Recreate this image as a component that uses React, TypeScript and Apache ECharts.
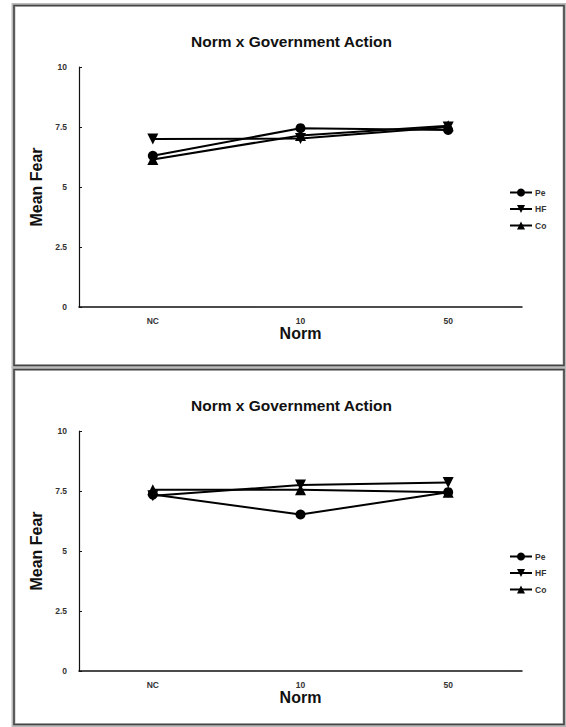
import React, { useEffect, useRef } from "react";
import * as echarts from "echarts";

const categories = ["NC", "10", "50"];
const seriesNames = ["Pe", "HF", "Co"];
const yTicks = [0, 2.5, 5, 7.5, 10];

// Top panel
const topPe = [6.3, 7.45, 7.38];
const topHF = [7.0, 7.02, 7.5];
const topCo = [6.15, 7.15, 7.55];

// Bottom panel
const botPe = [7.35, 6.52, 7.45];
const botHF = [7.3, 7.75, 7.85];
const botCo = [7.55, 7.55, 7.45];

const titleText = "Norm x Government Action";
const xName = "Norm";
const yName = "Mean Fear";

const FONT = "Liberation Sans, Arial, sans-serif";

export default function App() {
  const ref = useRef<HTMLDivElement>(null);

  useEffect(() => {
    if (!ref.current) return;
    const chart = echarts.init(ref.current, null, { renderer: "svg" });

    const panelTops = [0, 364];
    const panels = [
      [topPe, topHF, topCo],
      [botPe, botHF, botCo],
    ];
    const symbols = [
      { symbol: "circle", rotate: 0, size: 10 },
      { symbol: "triangle", rotate: 180, size: 11 },
      { symbol: "triangle", rotate: 0, size: 11 },
    ];

    const grids: any[] = [];
    const xAxes: any[] = [];
    const yAxes: any[] = [];
    const series: any[] = [];
    const titles: any[] = [];
    const legends: any[] = [];

    panelTops.forEach((off, pi) => {
      grids.push({ left: 79, right: 44, top: off + 67, height: 240 });
      titles.push({
        text: titleText,
        left: 191,
        top: off + 33,
        padding: 0,
        textStyle: { fontFamily: FONT, fontSize: 15.5, fontWeight: "bold", color: "#111" },
      });
      xAxes.push({
        type: "category",
        gridIndex: pi,
        data: categories,
        boundaryGap: true,
        name: xName,
        nameLocation: "middle",
        nameGap: 18,
        nameTextStyle: { fontFamily: FONT, fontSize: 16, fontWeight: "bold", color: "#111", verticalAlign: "top" },
        axisLine: { lineStyle: { color: "#111", width: 1.5 } },
        axisTick: { show: false },
        axisLabel: { fontFamily: FONT, fontSize: 8.5, fontWeight: "bold", color: "#333", margin: 9 },
        splitLine: { show: false },
      });
      yAxes.push({
        type: "value",
        gridIndex: pi,
        min: 0,
        max: 10,
        interval: 2.5,
        name: yName,
        nameLocation: "middle",
        nameGap: 26,
        nameTextStyle: { fontFamily: FONT, fontSize: 16, fontWeight: "bold", color: "#111" },
        axisLine: { show: true, lineStyle: { color: "#111", width: 1.2 } },
        axisTick: { show: true, inside: true, length: 3, lineStyle: { color: "#111" } },
        axisLabel: {
          fontFamily: FONT,
          fontSize: 8.5,
          fontWeight: "bold",
          color: "#333",
          margin: 12,
          formatter: (v: number) => (yTicks.includes(v) ? String(v) : ""),
        },
        splitLine: { show: false },
      });
      panels[pi].forEach((vals, si) => {
        series.push({
          type: "line",
          name: seriesNames[si],
          xAxisIndex: pi,
          yAxisIndex: pi,
          data: vals,
          symbol: symbols[si].symbol,
          symbolSize: symbols[si].size,
          symbolRotate: symbols[si].rotate,
          lineStyle: { color: "#000", width: 2 },
          itemStyle: { color: "#000" },
          z: 3 - si,
        });
      });
      legends.push({
        orient: "vertical",
        left: 509,
        top: off + 188,
        itemWidth: 22,
        itemHeight: 10,
        itemGap: 7.5,
        padding: 0,
        data: seriesNames,
        textStyle: { fontFamily: FONT, fontSize: 8.5, fontWeight: "bold", color: "#333", padding: [0, 0, 0, -2] },
      });
    });

    const frames: any[] = [
      { type: "rect", shape: { x: 13.5, y: 5, width: 551, height: 361 }, style: { fill: "none", stroke: "#bbb", lineWidth: 4 }, z: 10 },
      { type: "rect", shape: { x: 14, y: 5.5, width: 550, height: 360 }, style: { fill: "none", stroke: "#444", lineWidth: 1.6 }, z: 11 },
      { type: "rect", shape: { x: 13.5, y: 369, width: 551, height: 356 }, style: { fill: "none", stroke: "#bbb", lineWidth: 4 }, z: 10 },
      { type: "rect", shape: { x: 14, y: 369.5, width: 550, height: 355 }, style: { fill: "none", stroke: "#444", lineWidth: 1.6 }, z: 11 },
    ];

    chart.setOption({
      animation: false,
      backgroundColor: "#fff",
      title: titles,
      grid: grids,
      xAxis: xAxes,
      yAxis: yAxes,
      legend: legends,
      series,
      graphic: frames,
    });

    return () => chart.dispose();
  }, []);

  return (
    <div
      ref={ref}
      style={{ position: "fixed", left: 0, top: 0, width: 566, height: 727 }}
    />
  );
}
